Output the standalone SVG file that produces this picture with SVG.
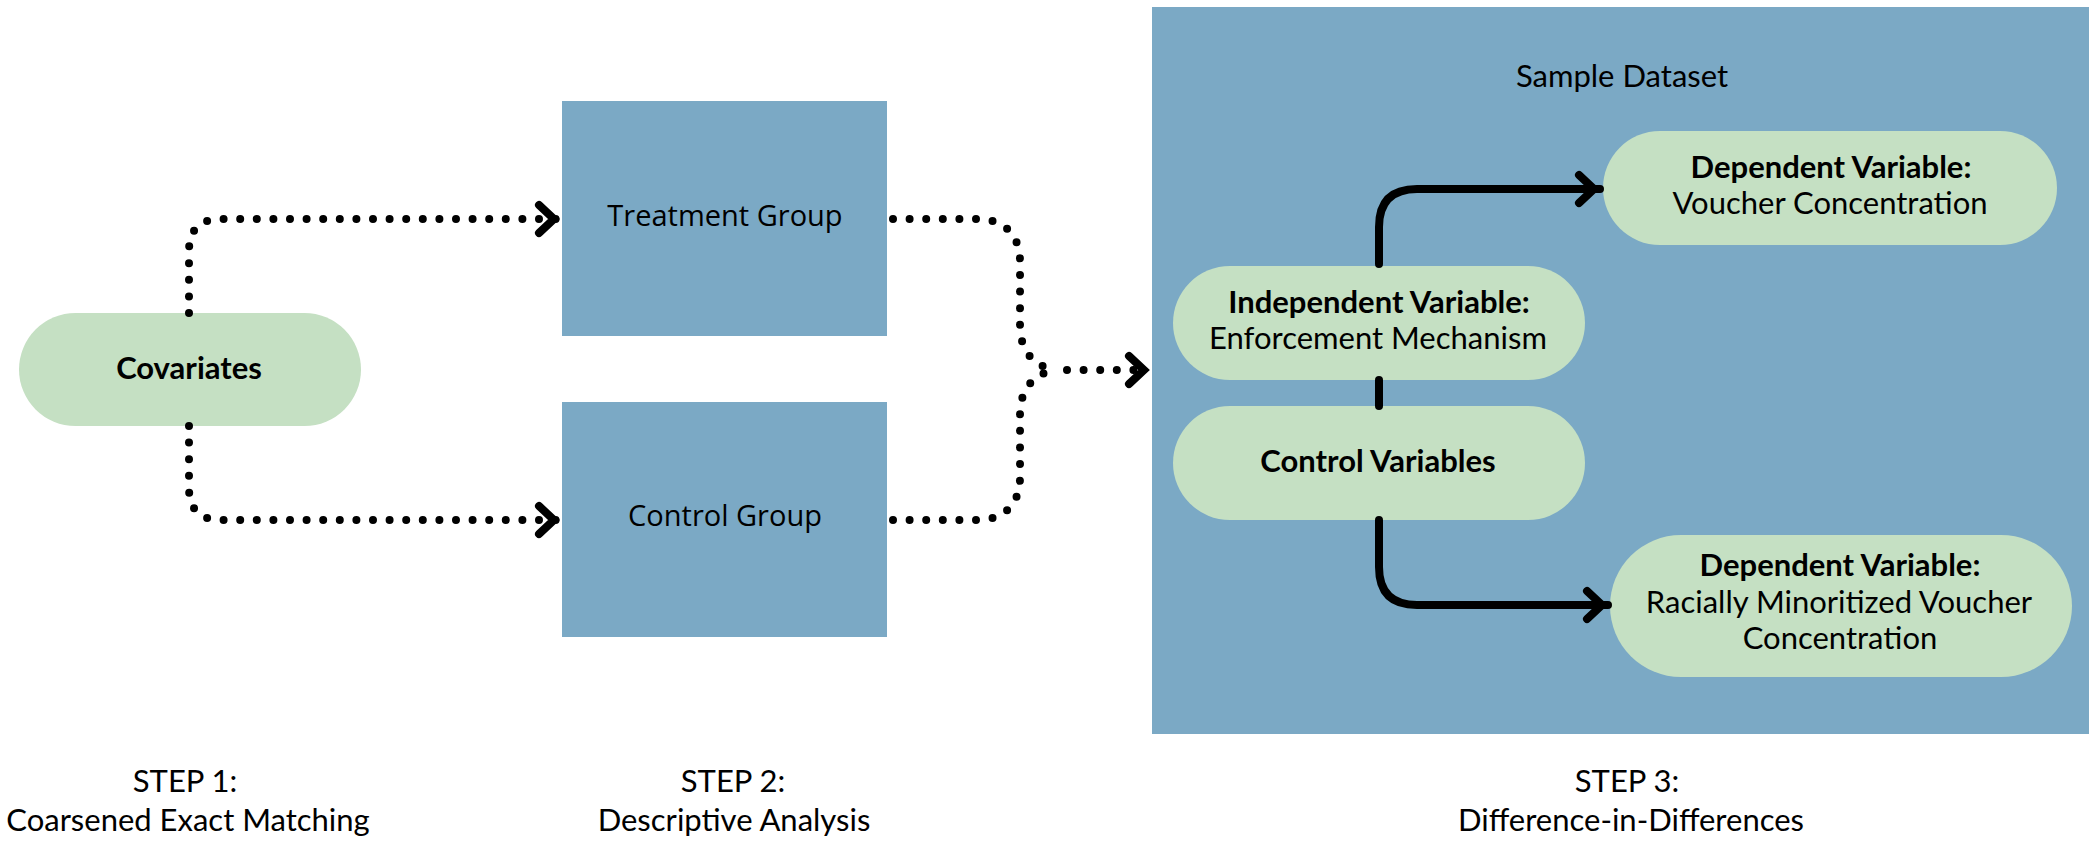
<svg xmlns="http://www.w3.org/2000/svg" width="2089" height="842" viewBox="0 0 2089 842">
<style>
.box{fill:#7ba9c5}
.pill{fill:#c5e0c3}
.t{font-family:Lato,"Liberation Sans",sans-serif;font-size:31px;fill:#000;text-anchor:middle}
.b{font-weight:bold}
.og{font-family:"Open Sans","Liberation Sans",sans-serif;font-size:29px;fill:#000;text-anchor:middle}
.dot{fill:none;stroke:#000;stroke-width:8;stroke-linecap:round;stroke-dasharray:0 16.6}
.solid{fill:none;stroke:#000;stroke-width:8;stroke-linecap:round}
</style>
<defs>
<marker id="chev" markerUnits="userSpaceOnUse" viewBox="-30 -20 40 40" markerWidth="40" markerHeight="40" refX="0" refY="0" orient="auto" overflow="visible">
<path d="M-21,-14 L-6,0 L-21,14" fill="none" stroke="#000" stroke-width="8" stroke-linecap="round" stroke-linejoin="miter"/>
</marker>
</defs>
<g id="sample-dataset">
<rect class="box" x="1152" y="7" width="937" height="727"/>
<text class="t" x="1622" y="87">Sample Dataset</text>
</g>
<g id="covariates">
<rect class="pill" x="19" y="313" width="342" height="113" rx="56.5"/>
<text class="t b" x="189" y="379">Covariates</text>
</g>
<g id="treatment-group">
<rect class="box" x="562" y="101" width="325" height="235"/>
<text class="og" x="725" y="226">Treatment Group</text>
</g>
<g id="control-group">
<rect class="box" x="562" y="402" width="325" height="235"/>
<text class="og" x="725" y="526">Control Group</text>
</g>
<g id="dependent-1">
<rect class="pill" x="1603" y="131" width="454" height="114" rx="57"/>
<text class="t b" x="1831" y="178">Dependent Variable:</text>
<text class="t" x="1830" y="214">Voucher Concentration</text>
</g>
<g id="independent">
<rect class="pill" x="1173" y="266" width="412" height="114" rx="57"/>
<text class="t b" x="1379" y="313">Independent Variable:</text>
<text class="t" x="1378" y="349">Enforcement Mechanism</text>
</g>
<g id="control-variables">
<rect class="pill" x="1173" y="406" width="412" height="114" rx="57"/>
<text class="t b" x="1378" y="472">Control Variables</text>
</g>
<g id="dependent-2">
<rect class="pill" x="1610" y="535" width="462" height="142" rx="71"/>
<text class="t b" x="1840" y="576">Dependent Variable:</text>
<text class="t" x="1839" y="613">Racially Minoritized Voucher</text>
<text class="t" x="1840" y="649">Concentration</text>
</g>
<g id="connectors">
<path class="dot" d="M189,313 V251 Q189,219 221,219 H560" marker-end="url(#chev)"/>
<path class="dot" d="M189,426 V488 Q189,520 221,520 H560" marker-end="url(#chev)"/>
<path class="dot" d="M893,219 H976 C1005,219 1020,235 1020,262 V328 C1021,352 1035,368 1058,370"/>
<path class="dot" d="M893,520 H976 C1005,520 1020,504 1020,477 V412 C1021,388 1035,372 1058,370"/>
<path class="dot" d="M1067,370 H1150" marker-end="url(#chev)"/>
<path class="solid" d="M1379,264 V227 Q1379,189 1417,189 H1600" marker-end="url(#chev)"/>
<path class="solid" d="M1379,380 V406"/>
<path class="solid" d="M1379,520 V567 Q1379,605 1417,605 H1608" marker-end="url(#chev)"/>
</g>
<g id="steps">
<text class="t" x="185" y="792">STEP 1:</text>
<text class="t" x="188" y="831">Coarsened Exact Matching</text>
<text class="t" x="733" y="792">STEP 2:</text>
<text class="t" x="734" y="831">Descriptive Analysis</text>
<text class="t" x="1627" y="792">STEP 3:</text>
<text class="t" x="1631" y="831">Difference-in-Differences</text>
</g>
</svg>
